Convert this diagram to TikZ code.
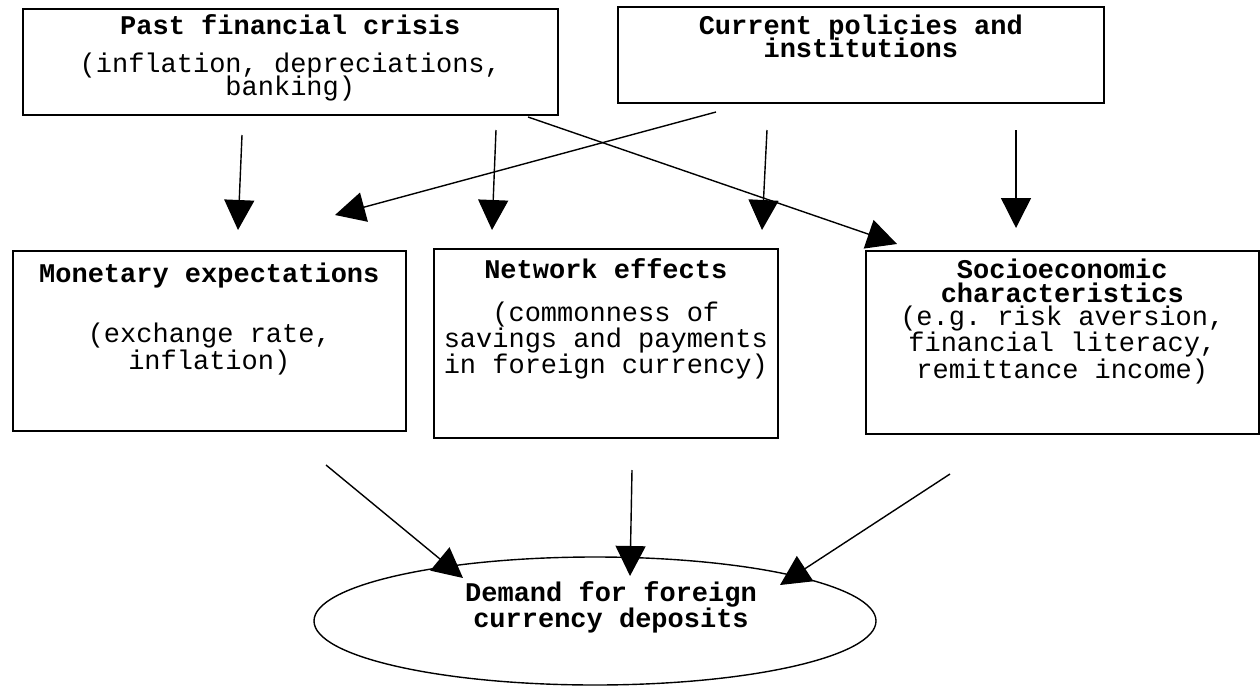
\documentclass[tikz,border=0pt]{standalone}
\usepackage{fontspec}
\setmonofont{Liberation Mono}
\usetikzlibrary{
    arrows.meta,
    positioning,
    shapes.geometric
}
\tikzset {
    frame/.style = {draw, line width = 1.6pt, inner sep = 0pt, anchor = north west},
    boxtext/.style = {font = \ttfamily\fontsize{27}{23}\selectfont, align = center, inner sep = 0pt, anchor = north},
    flow/.style = {line width = 1.4pt, -{Triangle[length = 30pt, width = 30pt]}},
}
\begin{document}
\begin{tikzpicture}[x = 1pt, y = -1pt]
            \useasboundingbox (0, 0) rectangle (1260, 685);
            % top row
            \node (past) [frame, minimum width = 535, minimum height = 106] at (22, 8) {};
            \node (pastT) [boxtext, below = 6pt of past.north] {\textbf{Past financial crisis}\\[15pt](inflation, depreciations,\\[-3pt]banking)};
            \node (curr) [frame, minimum width = 486, minimum height = 96] at (617, 6) {};
            \node (currT) [boxtext, below = 9pt of curr.north] {\textbf{Current policies and}\\[-3pt]\textbf{institutions}};
            % middle row
            \node (mon) [frame, minimum width = 393, minimum height = 180] at (12, 250) {};
            \node (monT) [boxtext, below = 13pt of mon.north] {\textbf{Monetary expectations}\\[34pt](exchange rate,\\inflation)};
            \node (net) [frame, minimum width = 344, minimum height = 189] at (433, 248) {};
            \node (netT) [boxtext, below = 10pt of net.north] {\textbf{Network effects}\\[20pt](commonness of\\savings and payments\\in foreign currency)};
            \node (soc) [frame, minimum width = 393, minimum height = 183] at (865, 250) {};
            \node (socT) [boxtext, below = 9pt of soc.north] {\textbf{Socioeconomic}\\[1pt]\textbf{characteristics}\\(e.g. risk aversion,\\financial literacy,\\remittance income)};
            % bottom
            \node (dem) [draw, ellipse, line width = 1.4pt, minimum width = 562, minimum height = 128] at (595, 621) {};
            \node (demT) [boxtext, anchor = center, xshift = 16pt, yshift = 14pt] at (dem.center) {\textbf{Demand for foreign}\\\textbf{currency deposits}};
            % arrow ends
            \coordinate (pastA) at (242, 135);
            \coordinate (monA) at (238, 230);
            \coordinate (pastB) at (496, 130);
            \coordinate (netA) at (492, 230);
            \coordinate (currA) at (716, 112);
            \coordinate (monB) at (335, 215);
            \coordinate (pastC) at (528, 117);
            \coordinate (socA) at (897, 244);
            \coordinate (currB) at (767, 130);
            \coordinate (netB) at (762, 230);
            \coordinate (currC) at (1016, 130);
            \coordinate (socB) at (1016, 228);
            \coordinate (monC) at (326, 465);
            \coordinate (demA) at (463, 578);
            \coordinate (netC) at (632, 470);
            \coordinate (demB) at (630, 576);
            \coordinate (socC) at (950, 474);
            \coordinate (demC) at (780, 585);
            \draw [flow] (pastA) -- (monA);
            \draw [flow] (pastB) -- (netA);
            \draw [flow] (currA) -- (monB);
            \draw [flow] (pastC) -- (socA);
            \draw [flow] (currB) -- (netB);
            \draw [flow] (currC) -- (socB);
            \draw [flow] (monC) -- (demA);
            \draw [flow] (netC) -- (demB);
            \draw [flow] (socC) -- (demC);
        \end{tikzpicture}
\end{document}
